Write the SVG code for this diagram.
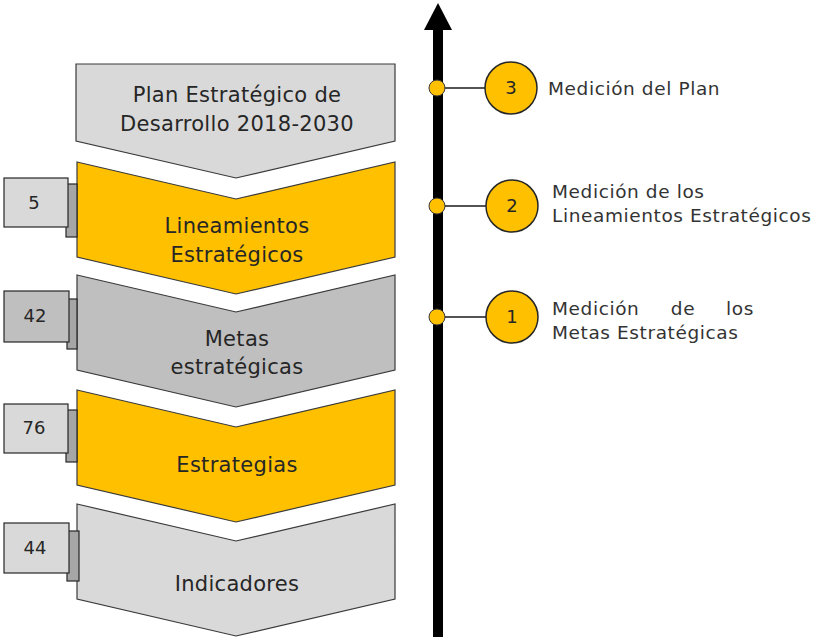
<svg xmlns="http://www.w3.org/2000/svg" width="813" height="639" viewBox="0 0 813 639">
<style>
.chev{stroke:#3a3a3a;stroke-width:1.2}
.lt{fill:#d9d9d9}
.yl{fill:#ffc000}
.md{fill:#bfbfbf}
.box{stroke:#262626;stroke-width:1.2}
.tab{fill:#a6a6a6;stroke:#262626;stroke-width:1.2}
.ct{font-family:"DejaVu Sans","Liberation Sans",sans-serif;font-size:21px;letter-spacing:0.3px;fill:#262626;text-anchor:middle}
.bt{font-family:"DejaVu Sans","Liberation Sans",sans-serif;font-size:18px;fill:#262626;text-anchor:middle}
.rt{font-family:"DejaVu Sans","Liberation Sans",sans-serif;font-size:18.5px;letter-spacing:0.6px;fill:#333333}
.dot{fill:#ffc000;stroke:#3a3a3a;stroke-width:1}
.big{fill:#ffc000;stroke:#262626;stroke-width:1.5}
.ln{stroke:#1a1a1a;stroke-width:1.5;fill:none}
</style>
<rect width="813" height="639" fill="#ffffff"/>
<g id="connectors">
<rect x="433" y="28" width="10" height="609" fill="#000"/>
<polygon points="438,3 452,30 424,30" fill="#000"/>
<line class="ln" x1="437" y1="88" x2="486" y2="88"/>
<line class="ln" x1="437" y1="206" x2="486" y2="206"/>
<line class="ln" x1="437" y1="317" x2="486" y2="317"/>
</g>
<g id="plan">
<polygon class="chev lt" points="76,64 395,64 395,141 236,178 76,141"/>
<text class="ct" x="237" y="102">Plan Estratégico de</text>
<text class="ct" x="237" y="131">Desarrollo 2018-2030</text>
</g>
<g id="lineamientos">
<polygon class="chev yl" points="77,162 236,199 395,162 395,257 236,294 77,257"/>
<text class="ct" x="237" y="233">Lineamientos</text>
<text class="ct" x="237" y="262">Estratégicos</text>
</g>
<g id="metas">
<polygon class="chev md" points="77,275 236,312 395,275 395,370 236,407 77,370"/>
<text class="ct" x="237" y="346">Metas</text>
<text class="ct" x="237" y="374">estratégicas</text>
</g>
<g id="estrategias">
<polygon class="chev yl" points="77,390 236,427 395,390 395,485 236,522 77,485"/>
<text class="ct" x="237" y="472">Estrategias</text>
</g>
<g id="indicadores">
<polygon class="chev lt" points="77,504 236,541 395,504 395,599 236,636 77,599"/>
<text class="ct" x="237" y="591">Indicadores</text>
</g>
<g id="count-5">
<rect class="tab" x="66" y="184" width="11" height="53"/>
<rect class="box lt" x="4" y="178" width="64" height="49"/>
<text class="bt" x="34" y="209">5</text>
</g>
<g id="count-42">
<rect class="tab" x="67" y="299" width="10" height="50"/>
<rect class="box md" x="4" y="291" width="65" height="51"/>
<text class="bt" x="35" y="322">42</text>
</g>
<g id="count-76">
<rect class="tab" x="66" y="410" width="11" height="52"/>
<rect class="box lt" x="4" y="404" width="64" height="49"/>
<text class="bt" x="34" y="434">76</text>
</g>
<g id="count-44">
<rect class="tab" x="67" y="531" width="12" height="50"/>
<rect class="box lt" x="4" y="523" width="65" height="50"/>
<text class="bt" x="35" y="554">44</text>
</g>
<g id="m3">
<circle class="dot" cx="437" cy="88" r="8"/>
<circle class="big" cx="511" cy="88" r="26"/>
<text class="bt" x="511" y="94">3</text>
<text class="rt" x="548" y="95">Medición del Plan</text>
</g>
<g id="m2">
<circle class="dot" cx="437" cy="206" r="8"/>
<circle class="big" cx="512" cy="206" r="26"/>
<text class="bt" x="512" y="212">2</text>
<text class="rt" x="552" y="198">Medición de los</text>
<text class="rt" x="552" y="222">Lineamientos Estratégicos</text>
</g>
<g id="m1">
<circle class="dot" cx="437" cy="317" r="8"/>
<circle class="big" cx="512" cy="317" r="26"/>
<text class="bt" x="512" y="323">1</text>
<text class="rt" y="315"><tspan x="552">Medición</tspan><tspan x="683" text-anchor="middle">de</tspan><tspan x="754" text-anchor="end">los</tspan></text>
<text class="rt" x="552" y="339">Metas Estratégicas</text>
</g>
</svg>
